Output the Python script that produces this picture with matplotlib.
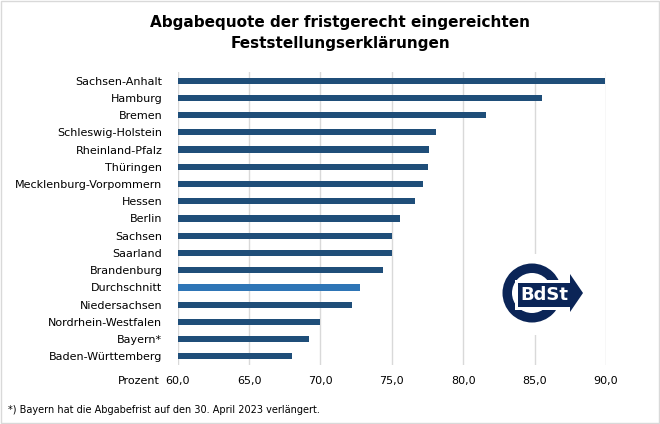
import matplotlib
matplotlib.use("Agg")
import matplotlib.pyplot as plt
from matplotlib.patches import Rectangle, Polygon, Circle
import matplotlib.ticker as mticker

categories = ["Sachsen-Anhalt", "Hamburg", "Bremen", "Schleswig-Holstein", "Rheinland-Pfalz",
              "Thüringen", "Mecklenburg-Vorpommern", "Hessen", "Berlin", "Sachsen", "Saarland",
              "Brandenburg", "Durchschnitt", "Niedersachsen", "Nordrhein-Westfalen", "Bayern*",
              "Baden-Württemberg"]
values = [89.9, 85.5, 81.6, 78.1, 77.6, 77.5, 77.2, 76.6, 75.6, 75.0, 75.0, 74.4, 72.8, 72.2,
          70.0, 69.2, 68.0]
xticks = [60, 65, 70, 75, 80, 85, 90]

title = "Abgabequote der fristgerecht eingereichten\nFeststellungserklärungen"
footnote = "*) Bayern hat die Abgabefrist auf den 30. April 2023 verlängert."

plt.rcParams['font.family'] = ['DejaVu Sans']

W, H = 660, 424
fig = plt.figure(figsize=(W/100, H/100), dpi=100)

ax = fig.add_axes([177.7/W, 1-365/H, (606-177.7)/W, (365-72)/H])
colors = ["#2E75B6" if c == "Durchschnitt" else "#1F4E79" for c in categories]
ypos = list(range(len(categories)))
ax.barh(ypos, [v - 60 for v in values], left=60, height=0.36, color=colors, zorder=3)
ax.set_ylim(len(categories) - 0.5, -0.5)
ax.set_xlim(60, 90)
ax.set_xticks(xticks)
ax.xaxis.set_major_formatter(mticker.FuncFormatter(lambda v, p: f"{v:.1f}".replace(".", ",")))
ax.set_yticks(ypos)
ax.set_yticklabels(categories)
ax.tick_params(axis='both', length=0, labelsize=8, colors="#000000")
ax.tick_params(axis='y', pad=11)
ax.tick_params(axis='x', pad=8)
for s in ax.spines.values():
    s.set_visible(False)
ax.grid(axis='x', color="#D9D9D9", linewidth=1, zorder=0)

fig.text(160/W, 1-381/H, "Prozent", ha='right', va='center', fontsize=8)
fig.text(340/W, 1-33/H, title, ha='center', va='center', fontsize=11, fontweight='bold',
         linespacing=1.5)
fig.text(8/W, 1-410/H, footnote, ha='left', va='center', fontsize=7)

# logo and border
lax = fig.add_axes([0, 0, 1, 1])
lax.set_xlim(0, W)
lax.set_ylim(H, 0)
lax.axis('off')
lax.add_patch(Rectangle((0.5, 0.5), W - 1.5, H - 1.5, facecolor='none', edgecolor="#D9D9D9", linewidth=1))
navy = "#0B2557"
lax.add_patch(Rectangle((497, 254), 92, 81, facecolor='white', edgecolor='none'))
lax.add_patch(Circle((532, 293), 29.5, facecolor=navy, edgecolor='none'))
lax.add_patch(Circle((532, 293), 20, facecolor='white', edgecolor='none'))
lax.add_patch(Rectangle((515, 280), 60, 30, facecolor='white', edgecolor='none'))
lax.add_patch(Polygon([(570, 274), (583, 293), (570, 312)], closed=True, facecolor=navy, edgecolor='none'))
lax.add_patch(Rectangle((518, 283), 54, 24, facecolor=navy, edgecolor='none'))
lax.text(544, 295.5, "BdSt", color='white', fontsize=13, fontweight='bold', ha='center', va='center')

fig.savefig("out.png", dpi=100, facecolor='white')
